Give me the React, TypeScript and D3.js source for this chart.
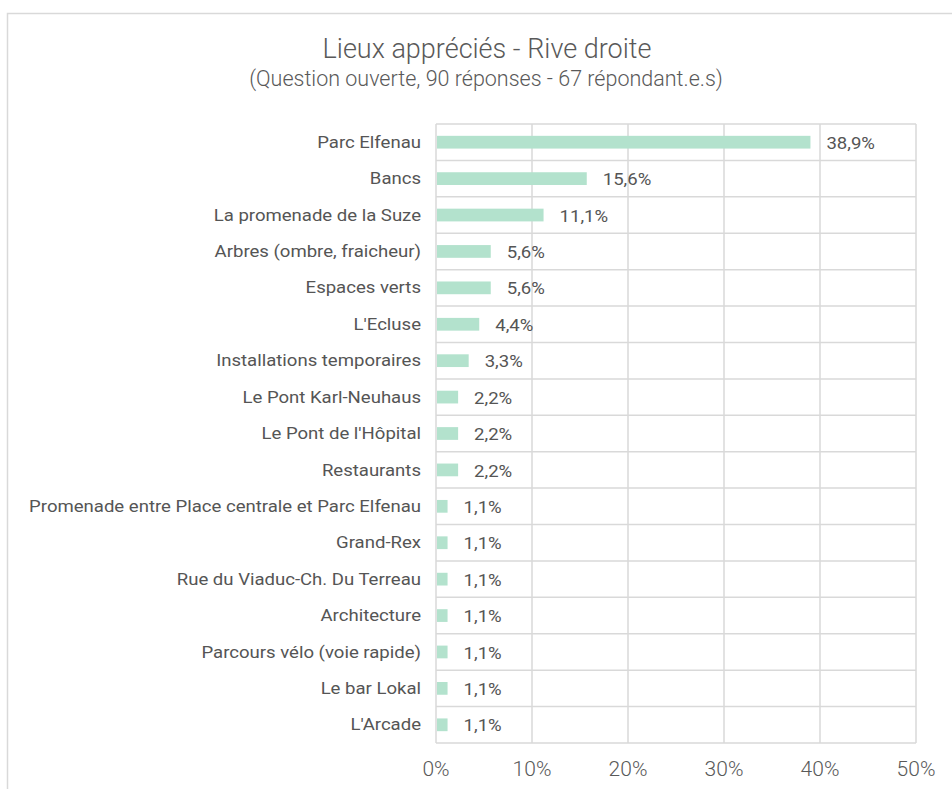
import React from 'react';
import * as d3 from 'd3';

const categories = [
	'Parc Elfenau',
	'Bancs',
	'La promenade de la Suze',
	'Arbres (ombre, fraicheur)',
	'Espaces verts',
	"L'Ecluse",
	'Installations temporaires',
	'Le Pont Karl-Neuhaus',
	"Le Pont de l'Hôpital",
	'Restaurants',
	'Promenade entre Place centrale et Parc Elfenau',
	'Grand-Rex',
	'Rue du Viaduc-Ch. Du Terreau',
	'Architecture',
	'Parcours vélo (voie rapide)',
	'Le bar Lokal',
	"L'Arcade",
];

const shares = [0.389, 0.156, 0.111, 0.056, 0.056, 0.044, 0.033, 0.022, 0.022, 0.022, 0.011, 0.011, 0.011, 0.011, 0.011, 0.011, 0.011];

const ticks = [0, 0.1, 0.2, 0.3, 0.4, 0.5];

const title = 'Lieux appréciés - Rive droite';
const subtitle = '(Question ouverte, 90 réponses - 67 répondant.e.s)';

const W = 952,
	H = 789,
	left = 436,
	right = 916,
	top = 124,
	bottom = 743;

const font = 'Roboto, "Noto Sans", sans-serif';
// the labels in the picture are wider than tall, so they get stretched a little
const stretch = 1.16;

const App = () => {
	const x = d3.scaleLinear().domain( [ 0, 0.5 ] ).range( [ left, right ] ),
		y = d3
			.scaleBand<string>()
			.domain( categories )
			.range( [ top, bottom ] )
			.paddingInner( 0.65 )
			.paddingOuter( 0.325 ),
		step = y.step(),
		pct = ( v: number ) => d3.format( '.1f' )( v * 100 ).replace( '.', ',' ) + '%';

	return (
		<div style={{ position: 'absolute', left: 0, top: 0 }}>
			<svg width={W} height={H} style={{ display: 'block', fontFamily: font }}>
				<rect x={0} y={0} width={W} height={H} fill="#fff" />
				<rect x={7.5} y={13.5} width={W + 10} height={H + 10} fill="#fff" stroke="#d9d9d9" strokeWidth={1.5} />
				<text x={487} y={58} textAnchor="middle" fontSize={27} fontWeight={300} fill="#595959">
					{title}
				</text>
				<text x={486} y={86} textAnchor="middle" fontSize={21.5} fontWeight={300} fill="#595959">
					{subtitle}
				</text>
				<g stroke="#d9d9d9" strokeWidth={1.5}>
					{ticks.map( ( t ) => (
						<line key={t} x1={x( t )} x2={x( t )} y1={top} y2={bottom} />
					) )}
					{d3.range( categories.length + 1 ).map( ( i ) => (
						<line key={i} x1={left} x2={right} y1={top + i * step} y2={top + i * step} />
					) )}
				</g>
				{categories.map( ( c, i ) => {
					const cy = ( y( c ) as number ) + y.bandwidth() / 2;
					return (
						<g key={c}>
							<rect x={x( 0 ) + 1} y={y( c )} width={x( shares[ i ] ) - x( 0 )} height={y.bandwidth()} fill="#b3e2cd" />
							<text
								transform={`translate(421,${cy}) scale(${stretch},1)`}
								dy="0.35em"
								textAnchor="end"
								fontSize={16}
								fill="#555555"
							>
								{c}
							</text>
							<text
								transform={`translate(${x( shares[ i ] ) + 17},${cy + 1}) scale(${stretch},1)`}
								dy="0.35em"
								fontSize={16}
								fill="#555555"
							>
								{pct( shares[ i ] )}
							</text>
						</g>
					);
				} )}
				{ticks.map( ( t ) => (
					<text key={t} x={x( t )} y={769} dy="0.35em" textAnchor="middle" fontSize={21} fontWeight={300} fill="#595959">
						{d3.format( '.0%' )( t )}
					</text>
				) )}
			</svg>
		</div>
	);
};

export default App;
